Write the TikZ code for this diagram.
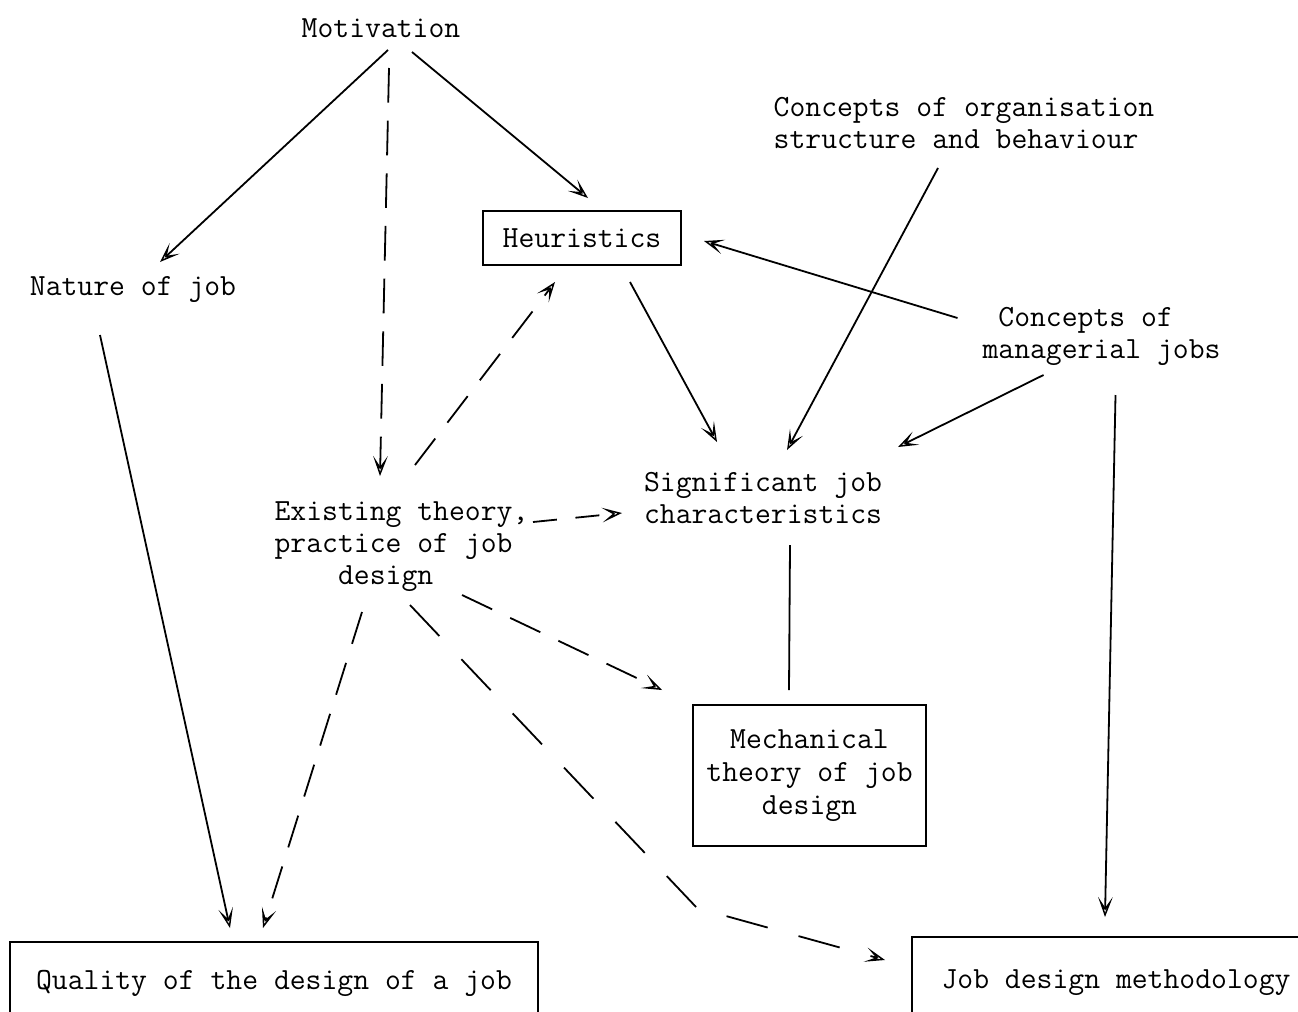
\documentclass[tikz,border=0pt]{standalone}
\usepackage{fontspec}
\usetikzlibrary{arrows.meta}
\begin{document}
\begin{tikzpicture}[x=0.75pt,y=-0.75pt,
  lbl/.style={font=\ttfamily\fontsize{23.1}{24}\selectfont, inner sep=0pt},
  box/.style={lbl, draw, line width=1.2pt},
  plain/.style={line width=1.35pt},
  link/.style={plain, -{Stealth[open,length=15pt,width=11pt,inset=8pt,line width=1.1pt]}},
  dashlink/.style={link, dash pattern=on 25pt off 15pt}]
  \useasboundingbox (0,0) rectangle (1298,1011);
  \clip (0,0) rectangle (1298,1011);

  % concepts
  \node[lbl] (mot) at (381,28) {Motivation};
  \node[lbl, align=left] (org) at (964,123) {Concepts of organisation\\structure and behaviour};
  \node[box, minimum width=148.5pt, minimum height=40.5pt] (heur) at (582,238) {Heuristics};
  \node[lbl] (nat) at (133,290) {Nature of job};
  \node[lbl, align=left] (mgr) at (1101.5,336) {\phantom{x}Concepts of\\managerial jobs};
  \node[lbl, align=center] (sig) at (763,498) {Significant job\\characteristics};
  \node[lbl, align=left] (exist) at (401.5,547) {Existing theory,\\practice of job\\\phantom{xxxx}design};
  \node[box, align=center, minimum width=174.75pt, minimum height=105.75pt,
        font=\ttfamily\fontsize{23.1}{24.7}\selectfont] (mech) at (809.5,775.5)
        {Mechanical\\theory of job\\design};
  \node[box, minimum width=396pt, minimum height=61.5pt] (qual) at (274,983)
        {Quality of the design of a job};
  \node[box, minimum width=306pt, minimum height=69pt] (jdm) at (1116,983)
        {Job design methodology};
  \coordinate (bend) at (697,908);

  % solid influences
  \draw[link] ([shift={(7,22)}]mot.center) -- ([shift={(27,-28)}]nat.center);
  \draw[link] ([shift={(31,24)}]mot.center) -- ([shift={(6,-40)}]heur.center);
  \draw[link] ([shift={(-33,45)}]nat.center) -- ([shift={(-44,-55)}]qual.center);
  \draw[link] ([shift={(48,44)}]heur.center) -- ([shift={(-46,-56)}]sig.center);
  \draw[link] ([shift={(-26,45)}]org.center) -- ([shift={(24,-48)}]sig.center);
  \draw[link] ([shift={(-144,-18)}]mgr.center) -- ([shift={(122,3)}]heur.center);
  \draw[link] ([shift={(-58,39)}]mgr.center) -- ([shift={(135,-51)}]sig.center);
  \draw[link] ([shift={(14,59)}]mgr.center) -- ([shift={(-11,-66)}]jdm.center);
  \draw[plain] ([shift={(27,47)}]sig.center) -- ([shift={(-20.5,-85.5)}]mech.center);

  % dashed influences
  \draw[dashlink, dash pattern=on 26pt off 13.5pt] ([shift={(8,40)}]mot.center) -- ([shift={(-21.5,-71)}]exist.center);
  \draw[dashlink] ([shift={(-39.5,65)}]exist.center) -- ([shift={(-11,-55)}]qual.center);
  \draw[dashlink] ([shift={(13.5,-82)}]exist.center) -- ([shift={(-27,44)}]heur.center);
  \draw[dashlink, dash pattern=on 18pt off 14pt] ([shift={(131.5,-25)}]exist.center) -- ([shift={(-141,15)}]sig.center);
  \draw[dashlink] ([shift={(60.5,48)}]exist.center) -- ([shift={(-147.5,-85.5)}]mech.center);
  \draw[dashlink, dash pattern=on 32pt off 24pt] ([shift={(8.5,58)}]exist.center) -- (bend)
        -- ([shift={(-231,-23)}]jdm.center);
\end{tikzpicture}
\end{document}
